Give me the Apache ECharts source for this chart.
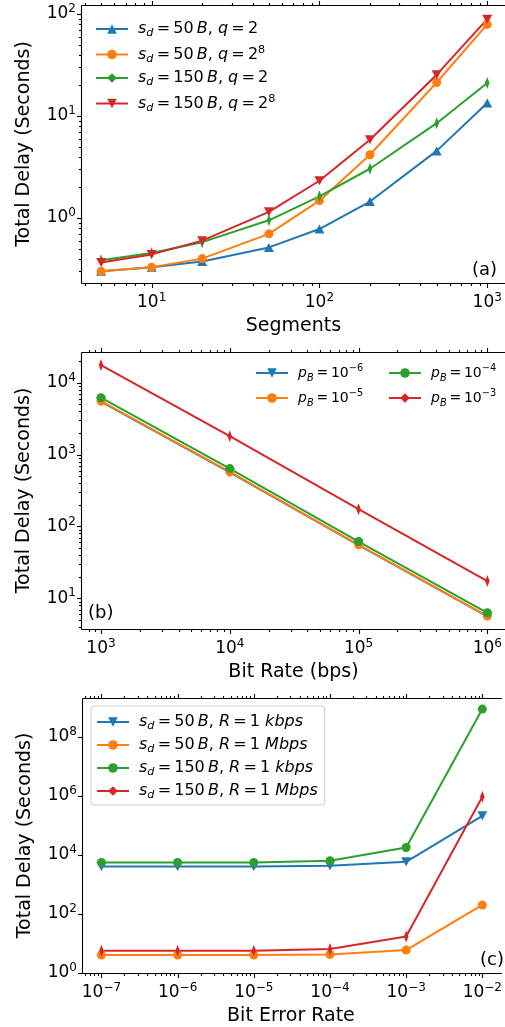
<!DOCTYPE html>
<html>
<head>
<meta charset="utf-8">
<script src="https://cdn.jsdelivr.net/npm/echarts@6.0.0/dist/echarts.min.js"></script>
<style>
html,body{margin:0;padding:0;background:#fff;}
#chart{width:505px;height:1027px;}
</style>
</head>
<body>
<div id="chart"></div>
<script>
// ---------- DATA ----------
const segments = [5, 10, 20, 50, 100, 200, 500, 1000];
const aSd50q2   = [0.30, 0.33, 0.375, 0.515, 0.78, 1.45, 4.55, 13.4];
const aSd50q256 = [0.30, 0.33, 0.40, 0.70, 1.48, 4.17, 21.3, 79];
const aSd150q2  = [0.385, 0.455, 0.58, 0.95, 1.63, 3.04, 8.5, 21.1];
const aSd150q256= [0.367, 0.44, 0.60, 1.15, 2.32, 5.86, 25.4, 89];

const bitRates = [1e3, 1e4, 1e5, 1e6];
const bP6 = [5450, 565, 55, 5.6];
const bP5 = [5560, 574, 55.6, 5.68];
const bP4 = [6180, 638, 61.8, 6.3];
const bP3 = [17600, 1800, 174, 17.4];

const berRates = [1e-7, 1e-6, 1e-5, 1e-4, 1e-3, 1e-2];
const c50k  = [4050, 4050, 4050, 4250, 5800, 2.1e5];
const c50M  = [4.05, 4.05, 4.05, 4.26, 5.97, 201];
const c150k = [5500, 5500, 5500, 6300, 17700, 8.6e8];
const c150M = [5.67, 5.67, 5.67, 6.45, 17.3, 9.2e5];

const panelTags = ['(a)', '(b)', '(c)'];
const axisNamesX = ['Segments', 'Bit Rate (bps)', 'Bit Error Rate'];
const axisNameY = 'Total Delay (Seconds)';

// ---------- STYLE ----------
const FONT = 'DejaVu Sans';
const C = ['#1f77b4', '#ff7f0e', '#2ca02c', '#d62728'];
const TRI_UP = 'path://M5,0 L10,9 L0,9 Z';
const TRI_DOWN = 'path://M0,0 L10,0 L5,9 Z';
const THIN_DIAMOND = 'path://M5,0 L9,7 L5,14 L1,7 Z';

const ranges = [
  {x: [Math.pow(10, 0.585), Math.pow(10, 3.106)], y: [Math.pow(10, -0.637), Math.pow(10, 2.088)], yStep: 1, yMinor: true},
  {x: [Math.pow(10, 2.8525), Math.pow(10, 6.1366)], y: [Math.pow(10, 0.574), Math.pow(10, 4.427)], yStep: 1, yMinor: true},
  {x: [Math.pow(10, -7.242), Math.pow(10, -1.783)], y: [1, Math.pow(10, 9.309)], yStep: 2, yMinor: false}
];
const grids = [
  {left: 82, top: 5, width: 423, height: 278},
  {left: 82, top: 352, width: 423, height: 277},
  {left: 83, top: 698, width: 422, height: 276}
];

function expLabel(step) {
  return function (v) {
    const l = Math.log10(v);
    const e = Math.round(l);
    if (Math.abs(l - e) > 1e-6) return '';
    if (e % step !== 0) return '';
    const s = String(e).replace('-', '\u2212');
    return '{b|10}{s|' + s + '}';
  };
}
const tickRich = {
  b: {fontSize: 17, fontFamily: FONT, color: '#000', lineHeight: 22},
  s: {fontSize: 12, fontFamily: FONT, color: '#000', lineHeight: 10, verticalAlign: 'top'}
};
function legRich(fs) {
  return {
    t: {fontSize: fs, fontFamily: FONT, color: '#000', lineHeight: 20},
    i: {fontSize: fs, fontFamily: FONT, color: '#000', lineHeight: 20, fontStyle: 'italic'},
    sub: {fontSize: fs * 0.7, fontFamily: FONT, color: '#000', lineHeight: 12, fontStyle: 'italic', verticalAlign: 'bottom'},
    sup: {fontSize: fs * 0.7, fontFamily: FONT, color: '#000', lineHeight: 10, verticalAlign: 'top'}
  };
}
const TS = '\u2009';
const EQ = '{t|' + TS + '=' + TS + '}';
const legendLabels = {
  'sd50q2':   '{i|s}{sub|d}' + EQ + '{t|50' + TS + '}{i|B}{t|, }{i|q}' + EQ + '{t|2}',
  'sd50q256': '{i|s}{sub|d}' + EQ + '{t|50' + TS + '}{i|B}{t|, }{i|q}' + EQ + '{t|2}{sup|8}',
  'sd150q2':  '{i|s}{sub|d}' + EQ + '{t|150' + TS + '}{i|B}{t|, }{i|q}' + EQ + '{t|2}',
  'sd150q256':'{i|s}{sub|d}' + EQ + '{t|150' + TS + '}{i|B}{t|, }{i|q}' + EQ + '{t|2}{sup|8}',
  'p6': '{i|p}{sub|B}' + EQ + '{t|10}{sup|\u22126}',
  'p5': '{i|p}{sub|B}' + EQ + '{t|10}{sup|\u22125}',
  'p4': '{i|p}{sub|B}' + EQ + '{t|10}{sup|\u22124}',
  'p3': '{i|p}{sub|B}' + EQ + '{t|10}{sup|\u22123}',
  'c50k':  '{i|s}{sub|d}' + EQ + '{t|50' + TS + '}{i|B}{t|, }{i|R}' + EQ + '{t|1 }{i|kbps}',
  'c50M':  '{i|s}{sub|d}' + EQ + '{t|50' + TS + '}{i|B}{t|, }{i|R}' + EQ + '{t|1 }{i|Mbps}',
  'c150k': '{i|s}{sub|d}' + EQ + '{t|150' + TS + '}{i|B}{t|, }{i|R}' + EQ + '{t|1 }{i|kbps}',
  'c150M': '{i|s}{sub|d}' + EQ + '{t|150' + TS + '}{i|B}{t|, }{i|R}' + EQ + '{t|1 }{i|Mbps}'
};

function pairs(xs, ys) { return xs.map((x, i) => [x, ys[i]]); }
function mkSeries(name, g, xs, ys, color, symbol, size) {
  return {
    name: name, type: 'line', xAxisIndex: g, yAxisIndex: g,
    data: pairs(xs, ys), color: color,
    symbol: symbol, symbolSize: size, symbolKeepAspect: true,
    lineStyle: {width: 2, color: color}, itemStyle: {color: color},
    showSymbol: true, clip: true, z: 2
  };
}

const xAxes = [], yAxes = [];
for (let g = 0; g < 3; g++) {
  xAxes.push({
    type: 'log', logBase: 10, gridIndex: g, min: ranges[g].x[0], max: ranges[g].x[1],
    axisLine: {show: false}, axisTick: {show: false}, splitLine: {show: false}, minorTick: {show: false},
    axisLabel: {formatter: expLabel(1), rich: tickRich, margin: 9, showMinLabel: false, showMaxLabel: false},
    name: axisNamesX[g], nameLocation: 'middle', nameGap: 34,
    nameTextStyle: {fontFamily: FONT, fontSize: 19, color: '#000'}
  });
  yAxes.push({
    type: 'log', logBase: 10, gridIndex: g, min: ranges[g].y[0], max: ranges[g].y[1],
    axisLine: {show: false}, axisTick: {show: false}, splitLine: {show: false}, minorTick: {show: false},
    axisLabel: {formatter: expLabel(ranges[g].yStep), rich: tickRich, margin: 6, showMinLabel: g === 2, showMaxLabel: false},
    name: axisNameY, nameLocation: 'middle', nameGap: 48, nameRotate: 90,
    nameTextStyle: {fontFamily: FONT, fontSize: 19, color: '#000'}
  });
}

const series = [
  mkSeries('sd50q2', 0, segments, aSd50q2, C[0], TRI_UP, 10),
  mkSeries('sd50q256', 0, segments, aSd50q256, C[1], 'circle', 9),
  mkSeries('sd150q2', 0, segments, aSd150q2, C[2], THIN_DIAMOND, [8, 12]),
  mkSeries('sd150q256', 0, segments, aSd150q256, C[3], TRI_DOWN, 10),
  mkSeries('p6', 1, bitRates, bP6, C[0], TRI_DOWN, 10),
  mkSeries('p5', 1, bitRates, bP5, C[1], 'circle', 9),
  mkSeries('p4', 1, bitRates, bP4, C[2], 'circle', 9),
  mkSeries('p3', 1, bitRates, bP3, C[3], THIN_DIAMOND, [8, 12]),
  mkSeries('c50k', 2, berRates, c50k, C[0], TRI_DOWN, 10),
  mkSeries('c50M', 2, berRates, c50M, C[1], 'circle', 9),
  mkSeries('c150k', 2, berRates, c150k, C[2], 'circle', 9),
  mkSeries('c150M', 2, berRates, c150M, C[3], THIN_DIAMOND, [8, 12])
];

function legend(data, left, top, framed, fs, gap, pad) {
  return {
    data: data, orient: 'vertical', left: left, top: top,
    itemWidth: 32, itemHeight: 12, itemGap: gap,
    selectedMode: false,
    padding: pad,
    borderColor: framed ? '#cccccc' : 'transparent', borderWidth: framed ? 1 : 0, borderRadius: 3,
    backgroundColor: framed ? 'rgba(255,255,255,0.8)' : 'transparent',
    formatter: n => legendLabels[n],
    textStyle: {rich: legRich(fs), padding: [0, 0, 0, 5]}
  };
}

const chart = echarts.init(document.getElementById('chart'), null, {renderer: 'canvas'});
chart.setOption({
  animation: false,
  backgroundColor: '#fff',
  grid: grids.map(gr => Object.assign({show: false, containLabel: false}, gr)),
  xAxis: xAxes, yAxis: yAxes,
  legend: [
    legend(['sd50q2', 'sd50q256', 'sd150q2', 'sd150q256'], 95, 21, false, 16, 5.5, 0),
    legend(['p6', 'p5'], 255, 363, false, 14, 5, 0),
    legend(['p4', 'p3'], 388, 363, false, 14, 5, 0),
    legend(['c50k', 'c50M', 'c150k', 'c150M'], 91, 706, true, 16, 5, [8, 7, 4, 5])
  ],
  series: series
});

// ---------- spines and ticks (positions via the chart's own scales) ----------
const graphics = [];
function seg(x1, y1, x2, y2, z) {
  graphics.push({type: 'line', silent: true, z: z || 10,
    shape: {x1: x1, y1: y1, x2: x2, y2: y2}, style: {stroke: '#000', lineWidth: 1.1}});
}
for (let g = 0; g < 3; g++) {
  const r = ranges[g];
  const bl = chart.convertToPixel({gridIndex: g}, [r.x[0], r.y[0]]);
  const tr = chart.convertToPixel({gridIndex: g}, [r.x[1], r.y[1]]);
  const L = Math.round(bl[0]) - 0.5, B = Math.round(bl[1]) + 0.5, T = Math.round(tr[1]) + 0.5;
  seg(L, T, L, B, 12);
  seg(L, B, tr[0] + 3, B, 12);
  seg(L, T, tr[0] + 3, T, 12);

  const lx0 = Math.floor(Math.log10(r.x[0])), lx1 = Math.ceil(Math.log10(r.x[1]));
  for (let e = lx0; e <= lx1; e++) {
    for (let m = 1; m <= 9; m++) {
      const v = m * Math.pow(10, e);
      if (v < r.x[0] * 1.0001 || v > r.x[1] * 0.9999) continue;
      const p = chart.convertToPixel({gridIndex: g}, [v, r.y[0]]);
      const len = m === 1 ? 4.5 : 2.5;
      const x = Math.round(p[0]) + 0.5;
      seg(x, B, x, B + len);
      seg(x, T, x, T - len);
    }
  }
  const ly0 = Math.floor(Math.log10(r.y[0])), ly1 = Math.ceil(Math.log10(r.y[1]));
  for (let e = ly0; e <= ly1; e++) {
    for (let m = 1; m <= 9; m++) {
      if (m > 1 && !r.yMinor) continue;
      if (m === 1 && e % r.yStep !== 0) continue;
      const v = m * Math.pow(10, e);
      if (v < r.y[0] * 0.9999 || v > r.y[1] * 0.9999) continue;
      const p = chart.convertToPixel({gridIndex: g}, [r.x[0], v]);
      const len = m === 1 ? 4.5 : 2.5;
      const y = Math.round(p[1]) + 0.5;
      seg(L, y, L - len, y);
    }
  }
}
// panel tags
const tagPos = [[497, 270, 'right'], [88, 613, 'left'], [504, 960, 'right']];
tagPos.forEach((tp, i) => {
  graphics.push({type: 'text', silent: true, z: 11, x: tp[0], y: tp[1],
    style: {text: panelTags[i], font: '18px "DejaVu Sans"', fill: '#000', align: tp[2], verticalAlign: 'middle'}});
});
chart.setOption({graphic: graphics});
</script>
</body>
</html>
